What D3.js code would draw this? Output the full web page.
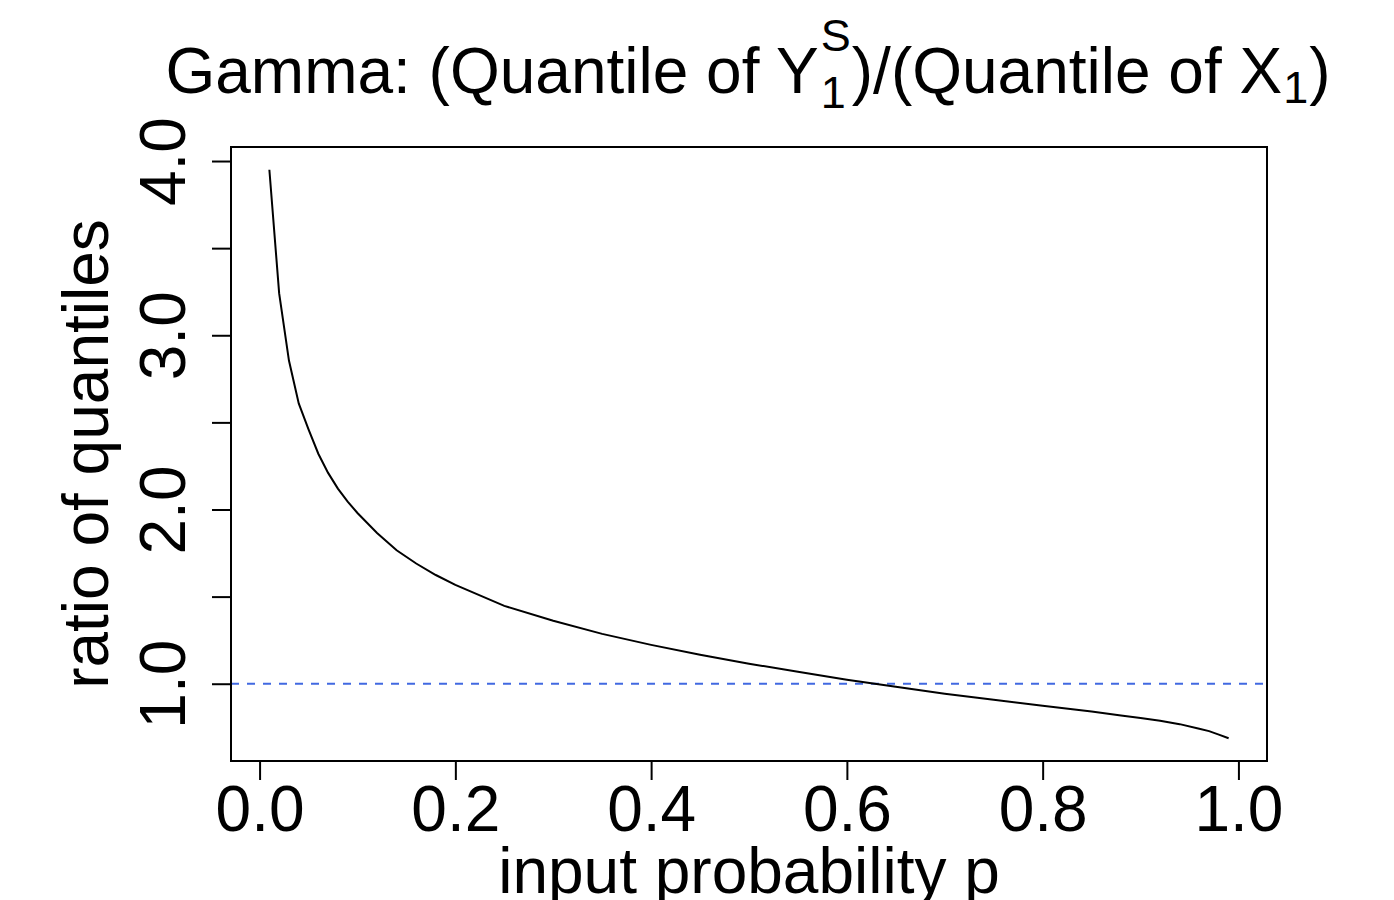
<!DOCTYPE html>
<html>
<head>
<meta charset="utf-8">
<script src="https://cdn.jsdelivr.net/npm/d3@7"></script>
<style>
  html, body { margin: 0; padding: 0; background: #fff; }
  svg { display: block; }
  text { font-family: "Liberation Sans", Arial, Helvetica, sans-serif; fill: #000; }
</style>
</head>
<body>
<svg id="chart" width="1394" height="900"></svg>
<script>
// input probabilities and the ratio of quantiles
const probs = [0.01, 0.02, 0.03, 0.04, 0.05, 0.06, 0.07, 0.08, 0.09, 0.10,
  0.12, 0.14, 0.16, 0.18, 0.20, 0.25, 0.30, 0.35, 0.40, 0.45,
  0.50, 0.55, 0.60, 0.65, 0.70, 0.75, 0.80, 0.85, 0.88, 0.90,
  0.92, 0.94, 0.96, 0.97, 0.98, 0.99];
const ratios = [3.95, 3.24, 2.855, 2.609, 2.46, 2.32, 2.21, 2.12, 2.045, 1.98,
  1.865, 1.766, 1.69, 1.624, 1.567, 1.447, 1.361, 1.286, 1.223, 1.166,
  1.115, 1.069, 1.023, 0.983, 0.943, 0.908, 0.874, 0.840, 0.818, 0.803,
  0.788, 0.768, 0.742, 0.728, 0.708, 0.687];
const xTicks = [0, 0.2, 0.4, 0.6, 0.8, 1.0];
const yTicks = [1.0, 1.5, 2.0, 2.5, 3.0, 3.5, 4.0];
const yTickLabels = ["1.0", "", "2.0", "", "3.0", "", "4.0"];
const refLevel = 1;

const boxL = 231, boxR = 1267, boxT = 147, boxB = 761;
const svg = d3.select("#chart");

// R style 4% padding of the data range
function padded(v) {
  var lo = d3.min(v), hi = d3.max(v), r = hi - lo;
  return [lo - 0.04 * r, hi + 0.04 * r];
}

const x = d3.scaleLinear().domain(padded(probs)).range([boxL, boxR]);
const y = d3.scaleLinear().domain(padded(ratios)).range([boxB, boxT]);

// x axis
const xAxis = svg.append("g")
  .attr("transform", "translate(0," + boxB + ")")
  .call(d3.axisBottom(x).tickValues(xTicks).tickSize(19).tickFormat(d3.format(".1f")));
xAxis.select(".domain").remove();
xAxis.selectAll("line").attr("stroke", "#000").attr("stroke-width", 2);
xAxis.selectAll("text")
  .attr("y", 70).attr("dy", null)
  .attr("fill", "#000")
  .style("font-size", "64px");

// y axis, labels turned like R does
const yAxis = svg.append("g")
  .attr("transform", "translate(" + boxL + ",0)")
  .call(d3.axisLeft(y).tickValues(yTicks).tickSize(19)
    .tickFormat(function (d, i) { return yTickLabels[i]; }));
yAxis.select(".domain").remove();
yAxis.selectAll("line").attr("stroke", "#000").attr("stroke-width", 2);
yAxis.selectAll("text")
  .attr("x", null).attr("dy", null)
  .attr("text-anchor", "middle")
  .attr("fill", "#000")
  .attr("transform", "translate(-46,0) rotate(-90)")
  .style("font-size", "64px");

// reference line at 1
svg.append("line")
  .attr("x1", boxL).attr("x2", boxR)
  .attr("y1", y(refLevel)).attr("y2", y(refLevel))
  .attr("stroke", "#4169E1")
  .attr("stroke-width", 2)
  .attr("stroke-dasharray", "8,8");

// the curve
const line = d3.line()
  .x(function (d, i) { return x(probs[i]); })
  .y(function (d) { return y(d); });
svg.append("path")
  .datum(ratios)
  .attr("d", line)
  .attr("fill", "none")
  .attr("stroke", "#000")
  .attr("stroke-width", 2);

// box
svg.append("rect")
  .attr("x", boxL).attr("y", boxT)
  .attr("width", boxR - boxL).attr("height", boxB - boxT)
  .attr("fill", "none").attr("stroke", "#000").attr("stroke-width", 2);

// axis titles
svg.append("text")
  .attr("x", (boxL + boxR) / 2).attr("y", 893)
  .attr("text-anchor", "middle")
  .style("font-size", "64px")
  .text("input probability p");

svg.append("text")
  .attr("transform", "translate(108," + ((boxT + boxB) / 2) + ") rotate(-90)")
  .attr("text-anchor", "middle")
  .style("font-size", "64px")
  .text("ratio of quantiles");

// title with super/subscripts, laid out piece by piece
const title = svg.append("g");
const big = 64, small = 45, base = 93;
let cx = 0;
function piece(txt, size, dyv) {
  var t = title.append("text")
    .attr("x", cx).attr("y", base + dyv)
    .style("font-size", size + "px")
    .text(txt);
  return t.node().getComputedTextLength();
}
cx += piece("Gamma: (Quantile of Y", big, 0) + 2;
var wS = piece("S", small, -42);
var w1 = piece("1", small, 15);
cx += Math.max(wS, w1) + 1;
cx += piece(")/(Quantile of X", big, 0) + 1;
cx += piece("1", small, 10) + 1;
cx += piece(")", big, 0);
title.attr("transform", "translate(" + (748 - cx / 2) + ",0)");
</script>
</body>
</html>
